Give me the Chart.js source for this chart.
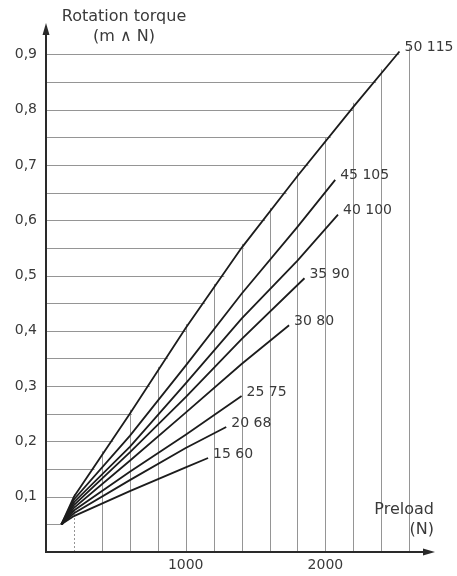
<!DOCTYPE html>
<html>
<head>
<meta charset="utf-8">
<style>
  html, body { margin: 0; padding: 0; background: #fff; }
  #wrap { width: 457px; height: 576px; }
</style>
<script src="https://cdn.jsdelivr.net/npm/chart.js@4.4.1/dist/chart.umd.min.js"></script>
</head>
<body>
<div id="wrap"><canvas id="chartTorque" width="457" height="576"></canvas></div>
<script>
// ===== DATA =====
const preloadGrid = [110, 200, 600, 1000, 1400, 1800, 2200];
const torque15 = [0.05, 0.065, 0.11, 0.153];
const torque20 = [0.05, 0.07, 0.13, 0.188];
const torque25 = [0.05, 0.075, 0.145, 0.212];
const torque30 = [0.05, 0.08, 0.165, 0.252, 0.34];
const torque35 = [0.05, 0.085, 0.18, 0.28, 0.385];
const torque40 = [0.05, 0.09, 0.19, 0.305, 0.422, 0.527];
const torque45 = [0.05, 0.095, 0.21, 0.337, 0.467, 0.588];
const torque50 = [0.05, 0.10, 0.25, 0.405, 0.55, 0.68, 0.805];
const endPreload = [1160, 1290, 1400, 1740, 1850, 2090, 2070, 2530];
const endTorque = [0.17, 0.226, 0.282, 0.41, 0.495, 0.61, 0.673, 0.905];
const seriesLabels = ['15 60', '20 68', '25 75', '30 80', '35 90', '40 100', '45 105', '50 115'];
const yTickValues = [0.1, 0.2, 0.3, 0.4, 0.5, 0.6, 0.7, 0.8, 0.9];
const xTickValues = [1000, 2000];
const hGridValues = [0.05, 0.1, 0.15, 0.2, 0.25, 0.3, 0.35, 0.4, 0.45, 0.5, 0.55, 0.6, 0.65, 0.7, 0.75, 0.8, 0.85, 0.9];
const vGridValues = [200, 400, 600, 800, 1000, 1200, 1400, 1600, 1800, 2000, 2200, 2400, 2600];

const allTorque = [torque15, torque20, torque25, torque30, torque35, torque40, torque45, torque50];

const FONT = 'DejaVu Sans';
const INK = '#1c1c1c';
const TEXT = '#3a3a3a';
const GRID = '#959595';

function buildPoints(arr, i) {
  const pts = arr.map((y, k) => ({ x: preloadGrid[k], y }));
  pts.push({ x: endPreload[i], y: endTorque[i] });
  return pts;
}

// the grid is a staircase under the highest curve
function topAt(pts, x) {
  if (x >= pts[pts.length - 1].x) return pts[pts.length - 1].y;
  for (let k = 1; k < pts.length; k++) {
    if (x <= pts[k].x) {
      const a = pts[k - 1], b = pts[k];
      return a.y + (b.y - a.y) * (x - a.x) / (b.x - a.x);
    }
  }
  return pts[0].y;
}
function xAtTop(pts, v) {
  if (v >= pts[pts.length - 1].y) return pts[pts.length - 1].x;
  for (let k = 1; k < pts.length; k++) {
    if (v <= pts[k].y) {
      const a = pts[k - 1], b = pts[k];
      return a.x + (b.x - a.x) * (v - a.y) / (b.y - a.y);
    }
  }
  return pts[0].x;
}

const gridPlugin = {
  id: 'staircaseGrid',
  beforeDatasetsDraw(chart) {
    const { ctx, scales: { x, y } } = chart;
    const top = chart.data.datasets[chart.data.datasets.length - 1].data;
    ctx.save();
    ctx.strokeStyle = GRID;
    ctx.lineWidth = 1;
    hGridValues.forEach(v => {
      const py = Math.round(y.getPixelForValue(v)) + 0.5;
      const px = x.getPixelForValue(xAtTop(top, v)) + 2;
      ctx.beginPath();
      ctx.moveTo(x.left, py);
      ctx.lineTo(px, py);
      ctx.stroke();
    });
    vGridValues.forEach(v => {
      const px = Math.round(x.getPixelForValue(v)) + 0.5;
      const py = y.getPixelForValue(topAt(top, v)) - 4;
      ctx.setLineDash(v === 200 ? [2, 2] : []);
      ctx.beginPath();
      ctx.moveTo(px, y.bottom);
      ctx.lineTo(px, py);
      ctx.stroke();
    });
    ctx.restore();
  }
};

const axesPlugin = {
  id: 'axesArrows',
  afterDatasetsDraw(chart) {
    const { ctx, chartArea: a } = chart;
    ctx.save();
    ctx.strokeStyle = '#2a2a2a';
    ctx.fillStyle = '#2a2a2a';
    ctx.lineWidth = 2;
    // y axis
    ctx.beginPath();
    ctx.moveTo(a.left, a.bottom + 1);
    ctx.lineTo(a.left, a.top + 6);
    ctx.stroke();
    ctx.beginPath();
    ctx.moveTo(a.left, a.top - 2);
    ctx.lineTo(a.left - 3.5, a.top + 10);
    ctx.lineTo(a.left + 3.5, a.top + 10);
    ctx.closePath();
    ctx.fill();
    // x axis
    ctx.beginPath();
    ctx.moveTo(a.left - 1, a.bottom);
    ctx.lineTo(a.right - 6, a.bottom);
    ctx.stroke();
    ctx.beginPath();
    ctx.moveTo(a.right + 2, a.bottom);
    ctx.lineTo(a.right - 10, a.bottom - 3.5);
    ctx.lineTo(a.right - 10, a.bottom + 3.5);
    ctx.closePath();
    ctx.fill();

    // axis titles
    ctx.fillStyle = TEXT;
    ctx.font = '16px "' + FONT + '"';
    ctx.textAlign = 'center';
    ctx.textBaseline = 'middle';
    ctx.fillText('Rotation torque', a.left + 78, a.top - 8);
    ctx.fillText('(m \u2227 N)', a.left + 78, a.top + 12);
    ctx.textAlign = 'right';
    ctx.fillText('Preload', a.right + 1, a.bottom - 42);
    ctx.fillText('(N)', a.right + 1, a.bottom - 22);

    // curve labels at the end of each line
    ctx.font = '14px "' + FONT + '"';
    ctx.textAlign = 'left';
    chart.data.datasets.forEach((ds, i) => {
      const meta = chart.getDatasetMeta(i);
      const last = meta.data[meta.data.length - 1];
      ctx.fillText(seriesLabels[i], last.x + 5, last.y - 4);
    });
    ctx.restore();
  }
};

new Chart(document.getElementById('chartTorque'), {
  type: 'line',
  data: {
    datasets: allTorque.map((arr, i) => ({
      label: seriesLabels[i],
      data: buildPoints(arr, i),
      borderColor: INK,
      borderWidth: 1.8,
      pointRadius: 0,
      fill: false,
      tension: 0
    }))
  },
  options: {
    responsive: false,
    animation: false,
    events: [],
    layout: { padding: { top: 25, right: 24, left: 0, bottom: 0 } },
    plugins: { legend: { display: false }, tooltip: { enabled: false } },
    scales: {
      x: {
        type: 'linear',
        min: 0, max: 2770,
        grid: { display: false, drawTicks: false },
        border: { display: false },
        afterBuildTicks: s => { s.ticks = xTickValues.map(v => ({ value: v })); },
        afterFit: s => { s.height = 24; },
        ticks: {
          padding: 5,
          color: TEXT,
          font: { family: FONT, size: 14 },
          callback: v => String(v)
        }
      },
      y: {
        type: 'linear',
        min: 0, max: 0.953,
        grid: { display: false, drawTicks: false },
        border: { display: false },
        afterBuildTicks: s => { s.ticks = yTickValues.map(v => ({ value: v })); },
        afterFit: s => { s.width = 46; },
        ticks: {
          padding: 9,
          color: TEXT,
          font: { family: FONT, size: 14 },
          callback: v => v.toFixed(1).replace('.', ',')
        }
      }
    }
  },
  plugins: [gridPlugin, axesPlugin]
});
</script>
</body>
</html>
